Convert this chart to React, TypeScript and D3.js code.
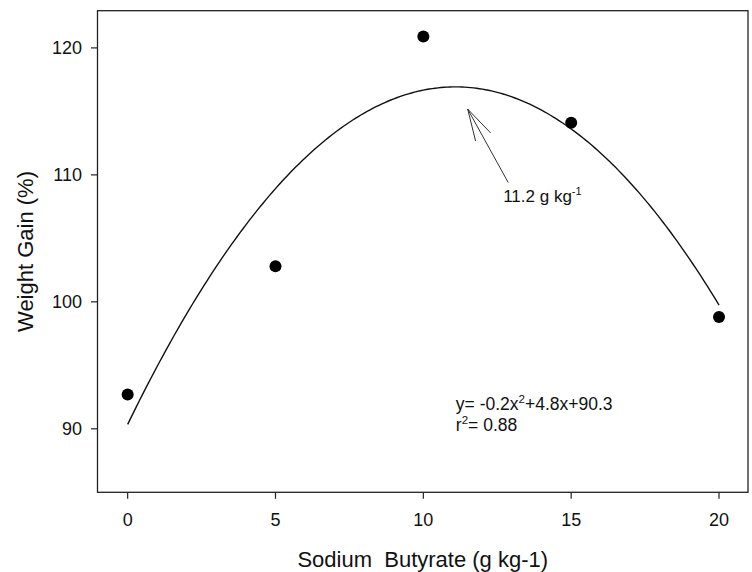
import React from "react";
import * as d3 from "d3";

const doses = [0, 5, 10, 15, 20];
const weightGain = [92.7, 102.8, 120.9, 114.1, 98.8];
const xTicks = [0, 5, 10, 15, 20];
const yTicks = [90, 100, 110, 120];
const xDomain = [-1.02, 20.98];
const yDomain = [85.0, 122.93];
const xLabel = "Sodium  Butyrate (g kg-1)";
const yLabel = "Weight Gain (%)";
const optimumText = "11.2 g kg";
const optimumSup = "-1";
const eqMain1 = "y= -0.2x";
const eqSup1 = "2";
const eqMain2 = "+4.8x+90.3";
const r2Main = "r";
const r2Sup = "2";
const r2Rest = "= 0.88";
// annotation anchor points, in data units
const arrowTip = [11.5, 115.18];
const arrowTail = [12.87, 109.4];
const optimumLabelPos = [12.7, 107.9];
const eqPos = [11.1, 91.52];
const r2Pos = [11.1, 89.83];

function quadFit(xs: number[], ys: number[]) {
  // least squares y = a + b x + c x^2
  const n = xs.length;
  const S = (f: (x: number, y: number) => number) =>
    xs.reduce((s, x, i) => s + f(x, ys[i]), 0);
  const s0 = n, s1 = S((x) => x), s2 = S((x) => x * x), s3 = S((x) => x ** 3), s4 = S((x) => x ** 4);
  const t0 = S((x, y) => y), t1 = S((x, y) => x * y), t2 = S((x, y) => x * x * y);
  const M = [
    [s0, s1, s2, t0],
    [s1, s2, s3, t1],
    [s2, s3, s4, t2],
  ];
  for (let i = 0; i < 3; i++) {
    for (let k = i + 1; k < 3; k++) {
      const f = M[k][i] / M[i][i];
      for (let j = i; j < 4; j++) M[k][j] -= f * M[i][j];
    }
  }
  const r = [0, 0, 0];
  for (let i = 2; i >= 0; i--) {
    let v = M[i][3];
    for (let j = i + 1; j < 3; j++) v -= M[i][j] * r[j];
    r[i] = v / M[i][i];
  }
  return (x: number) => r[0] + r[1] * x + r[2] * x * x;
}

export default function App() {
  const W = 752, H = 572;
  const left = 97.5, right = 748, top = 10.7, bottom = 492.3;
  const x = d3.scaleLinear().domain(xDomain).range([left, right]);
  const y = d3.scaleLinear().domain(yDomain).range([bottom, top]);
  const font = "'Liberation Sans', Arial, sans-serif";
  const fit = quadFit(doses, weightGain);
  const xs = d3.range(0, 20.0001, 0.1);
  const line = d3
    .line<number>()
    .x((d) => x(d))
    .y((d) => y(fit(d)))
    .curve(d3.curveLinear);

  const tx = x(arrowTip[0]), ty = y(arrowTip[1]);
  const lx = x(arrowTail[0]), ly = y(arrowTail[1]);
  const ang = Math.atan2(ly - ty, lx - tx);
  const headLen = 33, half = (15 * Math.PI) / 180;
  const h1 = [tx + headLen * Math.cos(ang + half), ty + headLen * Math.sin(ang + half)];
  const h2 = [tx + headLen * Math.cos(ang - half), ty + headLen * Math.sin(ang - half)];

  return (
    <svg width={W} height={H} style={{ position: "absolute", left: 0, top: 0 }} fontFamily={font}>
      <rect x={0} y={0} width={W} height={H} fill="#fff" />
      <rect x={left} y={top} width={right - left} height={bottom - top} fill="none" stroke="#222" strokeWidth={1.3} />
      {xTicks.map((t) => (
        <g key={"x" + t}>
          <line x1={x(t)} x2={x(t)} y1={bottom} y2={bottom + 6.5} stroke="#222" strokeWidth={1.2} />
          <text x={x(t)} y={525.5} fontSize={18} textAnchor="middle" fill="#111">
            {t}
          </text>
        </g>
      ))}
      {yTicks.map((t) => (
        <g key={"y" + t}>
          <line x1={left - 6.5} x2={left} y1={y(t)} y2={y(t)} stroke="#222" strokeWidth={1.2} />
          <text x={82} y={y(t)} dy="0.35em" fontSize={18} textAnchor="end" fill="#111">
            {t}
          </text>
        </g>
      ))}
      <text x={(left + right) / 2} y={567} fontSize={22} textAnchor="middle" fill="#111" style={{ whiteSpace: "pre" }}>
        {xLabel}
      </text>
      <text
        transform={`translate(33,${(top + bottom) / 2}) rotate(-90)`}
        fontSize={22}
        textAnchor="middle"
        fill="#111"
      >
        {yLabel}
      </text>
      <path d={line(xs) || ""} fill="none" stroke="#111" strokeWidth={1.4} />
      {doses.map((d, i) => (
        <circle key={"p" + d} cx={x(d)} cy={y(weightGain[i])} r={6} fill="#000" />
      ))}
      <line x1={tx} y1={ty} x2={lx} y2={ly} stroke="#333" strokeWidth={1} />
      <line x1={tx} y1={ty} x2={h1[0]} y2={h1[1]} stroke="#333" strokeWidth={1} />
      <line x1={tx} y1={ty} x2={h2[0]} y2={h2[1]} stroke="#333" strokeWidth={1} />
      <text x={x(optimumLabelPos[0])} y={y(optimumLabelPos[1])} fontSize={17} fill="#111">
        {optimumText}
        <tspan dy={-7} fontSize={11}>{optimumSup}</tspan>
      </text>
      <text x={x(eqPos[0])} y={y(eqPos[1])} fontSize={17.5} fill="#111">
        {eqMain1}
        <tspan dy={-7} fontSize={11.5}>{eqSup1}</tspan>
        <tspan dy={7}>{eqMain2}</tspan>
      </text>
      <text x={x(r2Pos[0])} y={y(r2Pos[1])} fontSize={17.5} fill="#111">
        {r2Main}
        <tspan dy={-7} fontSize={11.5}>{r2Sup}</tspan>
        <tspan dy={7}>{r2Rest}</tspan>
      </text>
    </svg>
  );
}
